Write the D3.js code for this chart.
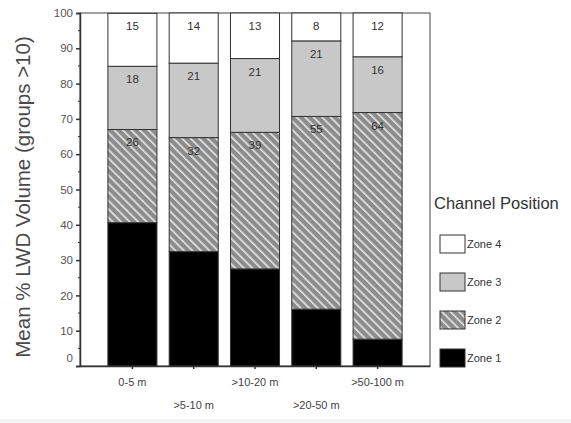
<!DOCTYPE html>
<html><head><meta charset="utf-8">
<script src="https://cdn.jsdelivr.net/npm/d3@7"></script>
<style>body{margin:0;background:#fff;}svg{display:block;font-family:Arial,"Liberation Sans",sans-serif;}</style>
</head><body>
<svg id="c" width="571" height="423"></svg>
<script>
const categories = ["0-5 m", ">5-10 m", ">10-20 m", ">20-50 m", ">50-100 m"];
const zone1 = [40.6, 32.4, 27.5, 16.1, 7.6];
const zone2 = [26.4, 32.3, 38.7, 54.6, 64.2];
const zone3 = [17.9, 21.1, 20.9, 21.4, 15.8];
const zone4 = [15.0, 14.2, 12.9, 7.9, 12.4];
const seriesNames = ["Zone 1", "Zone 2", "Zone 3", "Zone 4"];
const yTicks = [0, 10, 20, 30, 40, 50, 60, 70, 80, 90, 100];

const svg = d3.select("#c");
svg.append("rect").attr("x",0).attr("y",419).attr("width",571).attr("height",4).attr("fill","#f2f2f2");

const M = {l:80, r:430, t:13, b:366};
const x = d3.scaleBand().domain(categories).range([M.l, M.r]).paddingInner(0.2).paddingOuter(0.455);
const y = d3.scaleLinear().domain([0,100]).range([M.b, M.t]);

const defs = svg.append("defs");
const pat = defs.append("pattern").attr("id","hatch").attr("patternUnits","userSpaceOnUse")
  .attr("width",6).attr("height",6).attr("patternTransform","rotate(-45)");
pat.append("rect").attr("width",6).attr("height",6).attr("fill","#8c8c8c");
pat.append("rect").attr("x",0).attr("y",0).attr("width",1.6).attr("height",6).attr("fill","#e8e8e8");

const fills = ["#000000", "url(#hatch)", "#c8c8c8", "#ffffff"];
const table = categories.map((c,i)=>({cat:c, "Zone 1":zone1[i], "Zone 2":zone2[i], "Zone 3":zone3[i], "Zone 4":zone4[i]}));
const stacked = d3.stack().keys(seriesNames)(table);

// frame
svg.append("rect").attr("x",M.l).attr("y",M.t).attr("width",M.r-M.l).attr("height",M.b-M.t)
  .attr("fill","none").attr("stroke","#444").attr("stroke-width",1);

stacked.forEach((s,si)=>{
  const g = svg.append("g");
  g.selectAll("rect").data(s).join("rect")
    .attr("x", d=>x(d.data.cat)).attr("width", x.bandwidth())
    .attr("y", d=>y(d[1])).attr("height", d=>y(d[0])-y(d[1]))
    .attr("fill", fills[si]).attr("stroke","#333").attr("stroke-width",1);
  if (si>0) {
    g.selectAll("text").data(s).join("text")
      .attr("x", d=>x(d.data.cat)+x.bandwidth()/2).attr("y", d=>y(d[1])+17)
      .attr("text-anchor","middle").attr("font-size",11.5).attr("fill","#333")
      .text(d=>Math.round(d[1]-d[0]));
  }
});

// y axis
const yAxis = svg.append("g").attr("transform",`translate(${M.l},0)`)
  .call(d3.axisLeft(y).tickValues(yTicks).tickSize(4).tickPadding(3));
yAxis.select(".domain").attr("stroke","#333").attr("stroke-width",1.5);
yAxis.selectAll(".tick line").attr("stroke","#333").attr("stroke-width",1.5);
yAxis.selectAll(".tick text").attr("font-size",11.5).attr("fill","#555").attr("font-family","Arial, Liberation Sans, sans-serif");
yAxis.selectAll(".tick text").filter(d=>d===0).attr("dy","-0.4em");
svg.append("g").selectAll("line").data(d3.range(5,100,10)).join("line")
  .attr("x1",M.l-2).attr("x2",M.l).attr("y1",d=>y(d)).attr("y2",d=>y(d)).attr("stroke","#333").attr("stroke-width",1);

// x axis
const xAxis = svg.append("g").attr("transform",`translate(0,${M.b})`)
  .call(d3.axisBottom(x).tickSize(3).tickPadding(8).tickSizeOuter(0));
xAxis.select(".domain").attr("stroke","#333").attr("stroke-width",1.5);
xAxis.selectAll(".tick line").attr("stroke","#333").attr("stroke-width",1.5);
xAxis.selectAll(".tick text").attr("font-size",11).attr("fill","#444").attr("font-family","Arial, Liberation Sans, sans-serif")
  .attr("dy",(d,i)=> i%2 ? "2.95em" : "0.8em");

// y title
svg.append("text").attr("transform","translate(30,197) rotate(-90)").attr("text-anchor","middle")
  .attr("font-size",20.5).attr("fill","#4a4a4a").text("Mean % LWD Volume (groups >10)");

// legend
svg.append("text").attr("x",434).attr("y",209).attr("font-size",16.5).attr("fill","#333").text("Channel Position");
const legOrder = [3,2,1,0];
const lg = svg.append("g").selectAll("g").data(legOrder).join("g")
  .attr("transform",(d,i)=>`translate(440,${235+i*38})`);
lg.append("rect").attr("width",25).attr("height",18).attr("fill",d=>fills[d]).attr("stroke","#333").attr("stroke-width",1);
lg.append("text").attr("x",27).attr("y",13).attr("font-size",11).attr("fill","#333").text(d=>seriesNames[d]);
</script>
</body></html>
